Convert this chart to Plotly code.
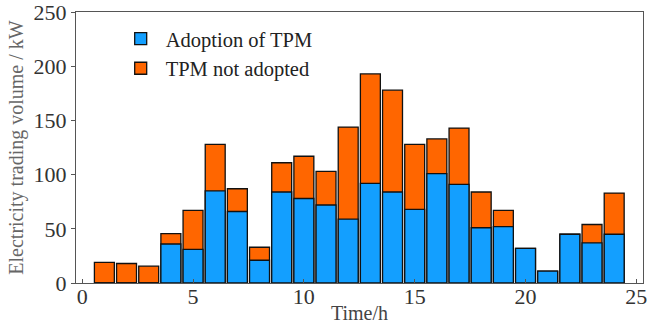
import plotly.graph_objects as go

hours = list(range(1, 25))
adopted = [0, 0, 0, 36, 31, 85, 66, 21, 84, 78, 72, 59, 92, 84, 68, 101, 91, 51, 52, 32, 11, 45, 37, 45]
not_adopted = [19, 18, 15.5, 45.5, 67, 128, 87, 33, 111, 117, 103, 144, 193, 178, 128, 133, 143, 84, 67, 32, 11, 45, 54, 83]
x_ticks = [0, 5, 10, 15, 20, 25]
y_ticks = [0, 50, 100, 150, 200, 250]

FONT = "Liberation Serif, Times New Roman, serif"
line = dict(color="#111111", width=1.3)

fig = go.Figure()
fig.add_trace(go.Bar(x=hours, y=not_adopted, name="TPM not adopted",
                     marker=dict(color="#FF6600", line=line), width=0.9, legendrank=2))
fig.add_trace(go.Bar(x=hours, y=adopted, name="Adoption of TPM",
                     marker=dict(color="#139FFF", line=line), width=0.9, legendrank=1))

fig.update_layout(
    width=665, height=324,
    margin=dict(l=76, r=22, t=12, b=41, autoexpand=False),
    barmode="overlay",
    plot_bgcolor="white", paper_bgcolor="white",
    font=dict(family=FONT, color="#333333"),
    legend=dict(x=0.07, y=0.975, xanchor="left", yanchor="top",
                font=dict(family=FONT, size=20.5, color="#222222"),
                bgcolor="rgba(0,0,0,0)", tracegroupgap=4, itemwidth=40),
    xaxis=dict(range=[-0.28, 25.3], tickvals=x_ticks, ticks="inside", ticklen=4,
               tickcolor="#555555", showline=True, linecolor="#555555", linewidth=1.2,
               mirror=True, showgrid=False, zeroline=False, ticklabeloverflow="allow",
               automargin=False, ticklabelstandoff=-7,
               tickfont=dict(family=FONT, size=22, color="#333333"),
               title=dict(text="Time/h", font=dict(family=FONT, size=20, color="#444444"), standoff=0)),
    yaxis=dict(range=[0, 250.2], tickvals=y_ticks, ticks="outside", ticklen=4,
               tickcolor="#555555", showline=True, linecolor="#555555", linewidth=1.2,
               mirror=True, showgrid=False, zeroline=False, ticklabeloverflow="allow",
               automargin=False,
               tickfont=dict(family=FONT, size=22, color="#333333"),
               title=dict(text="Electricity trading volume / kW",
                          font=dict(family=FONT, size=20, color="#666666"), standoff=4)),
)

fig.write_html("out.html")
